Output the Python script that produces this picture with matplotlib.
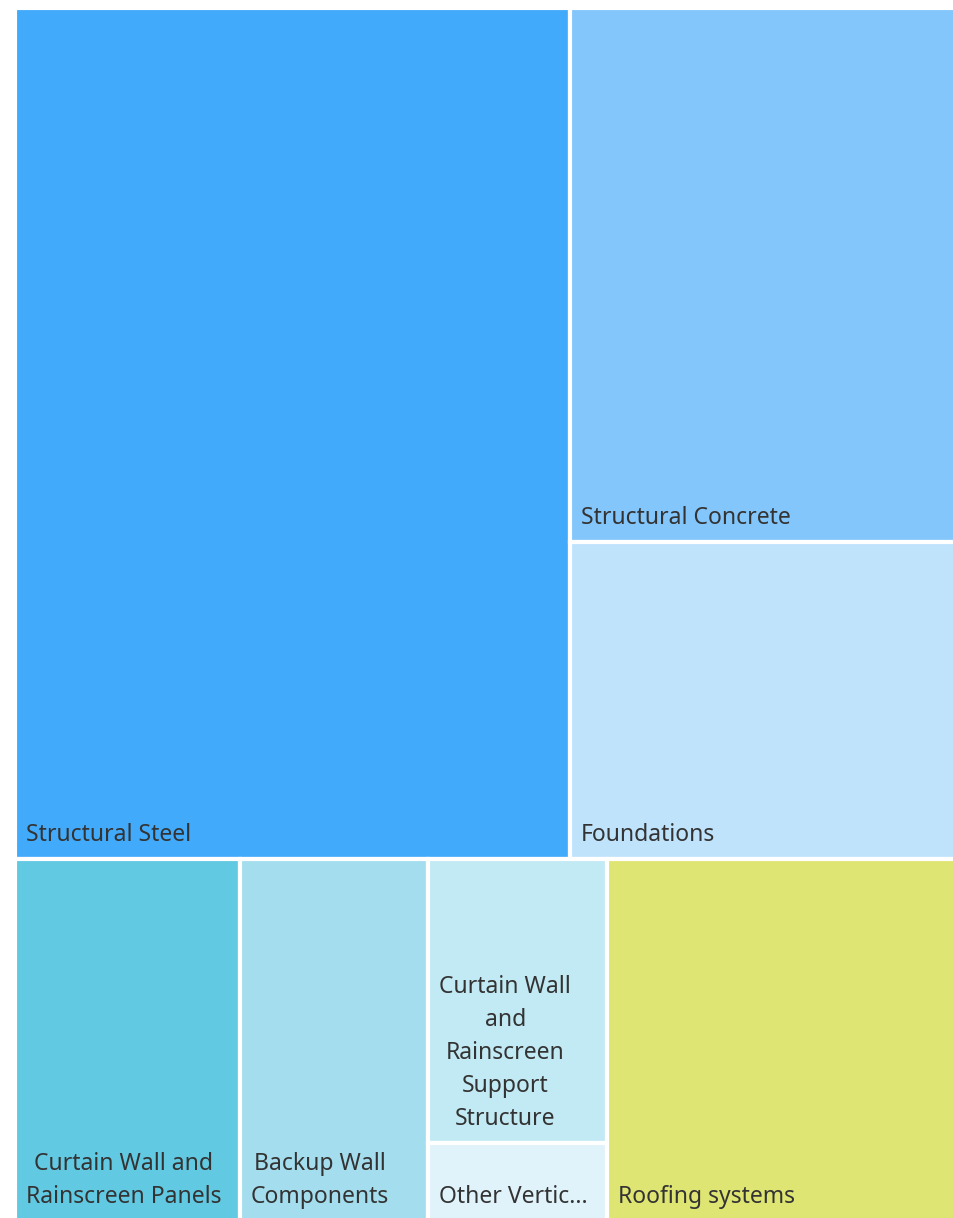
import matplotlib
matplotlib.use("Agg")
import matplotlib.pyplot as plt
from matplotlib.patches import Rectangle
from matplotlib.transforms import offset_copy

# ---- data ----
labels = ["Structural Steel", "Structural Concrete", "Foundations",
          "Curtain Wall and Rainscreen Panels", "Backup Wall Components",
          "Curtain Wall and Rainscreen Support Structure", "Other Vertic...",
          "Roofing systems"]
display_labels = ["Structural Steel", "Structural Concrete", "Foundations",
                  "Curtain Wall and\nRainscreen Panels", "Backup Wall\nComponents",
                  "Curtain Wall\nand\nRainscreen\nSupport\nStructure", "Other Vertic...",
                  "Roofing systems"]
values = [4685, 2053, 1216, 809, 677, 504, 139, 1258]
colors = ["#42AAFB", "#82C6FB", "#C0E3FC", "#62C9E2", "#A4DEEE",
          "#C2EAF4", "#E0F3FA", "#DFE572"]
# layout groups: rows -> columns -> stacked items (indices into the lists above)
rows = [[[0], [1, 2]], [[3], [4], [5, 6], [7]]]

W, H = 954, 1218
fig = plt.figure(figsize=(W / 100, H / 100), dpi=100)
ax_l, ax_r, ax_t, ax_b = 15, 957, 7.5, 1221
ax = fig.add_axes([ax_l / W, 1 - ax_b / H, (ax_r - ax_l) / W, (ax_b - ax_t) / H])
ax.set_xlim(0, 1)
ax.set_ylim(0, 1)
ax.axis("off")

total = float(sum(values))
y_top = 1.0
for row in rows:
    row_sum = sum(values[i] for col in row for i in col)
    rh = row_sum / total
    x0 = 0.0
    for col in row:
        col_sum = sum(values[i] for i in col)
        cw = col_sum / row_sum
        yy = y_top
        for i in col:
            h = rh * values[i] / col_sum
            ax.add_patch(Rectangle((x0, yy - h), cw, h, facecolor=colors[i],
                                   edgecolor="white", linewidth=3))
            tr = offset_copy(ax.transData, fig=fig, x=11, y=12, units="dots")
            ax.text(x0, yy - h, display_labels[i], transform=tr, ha="left",
                    va="bottom", multialignment="center", fontsize=16.5,
                    family=["Noto Sans", "DejaVu Sans"], color="#333333",
                    linespacing=1.5)
            yy -= h
        x0 += cw
    y_top -= rh

fig.savefig("out.png", dpi=100)
